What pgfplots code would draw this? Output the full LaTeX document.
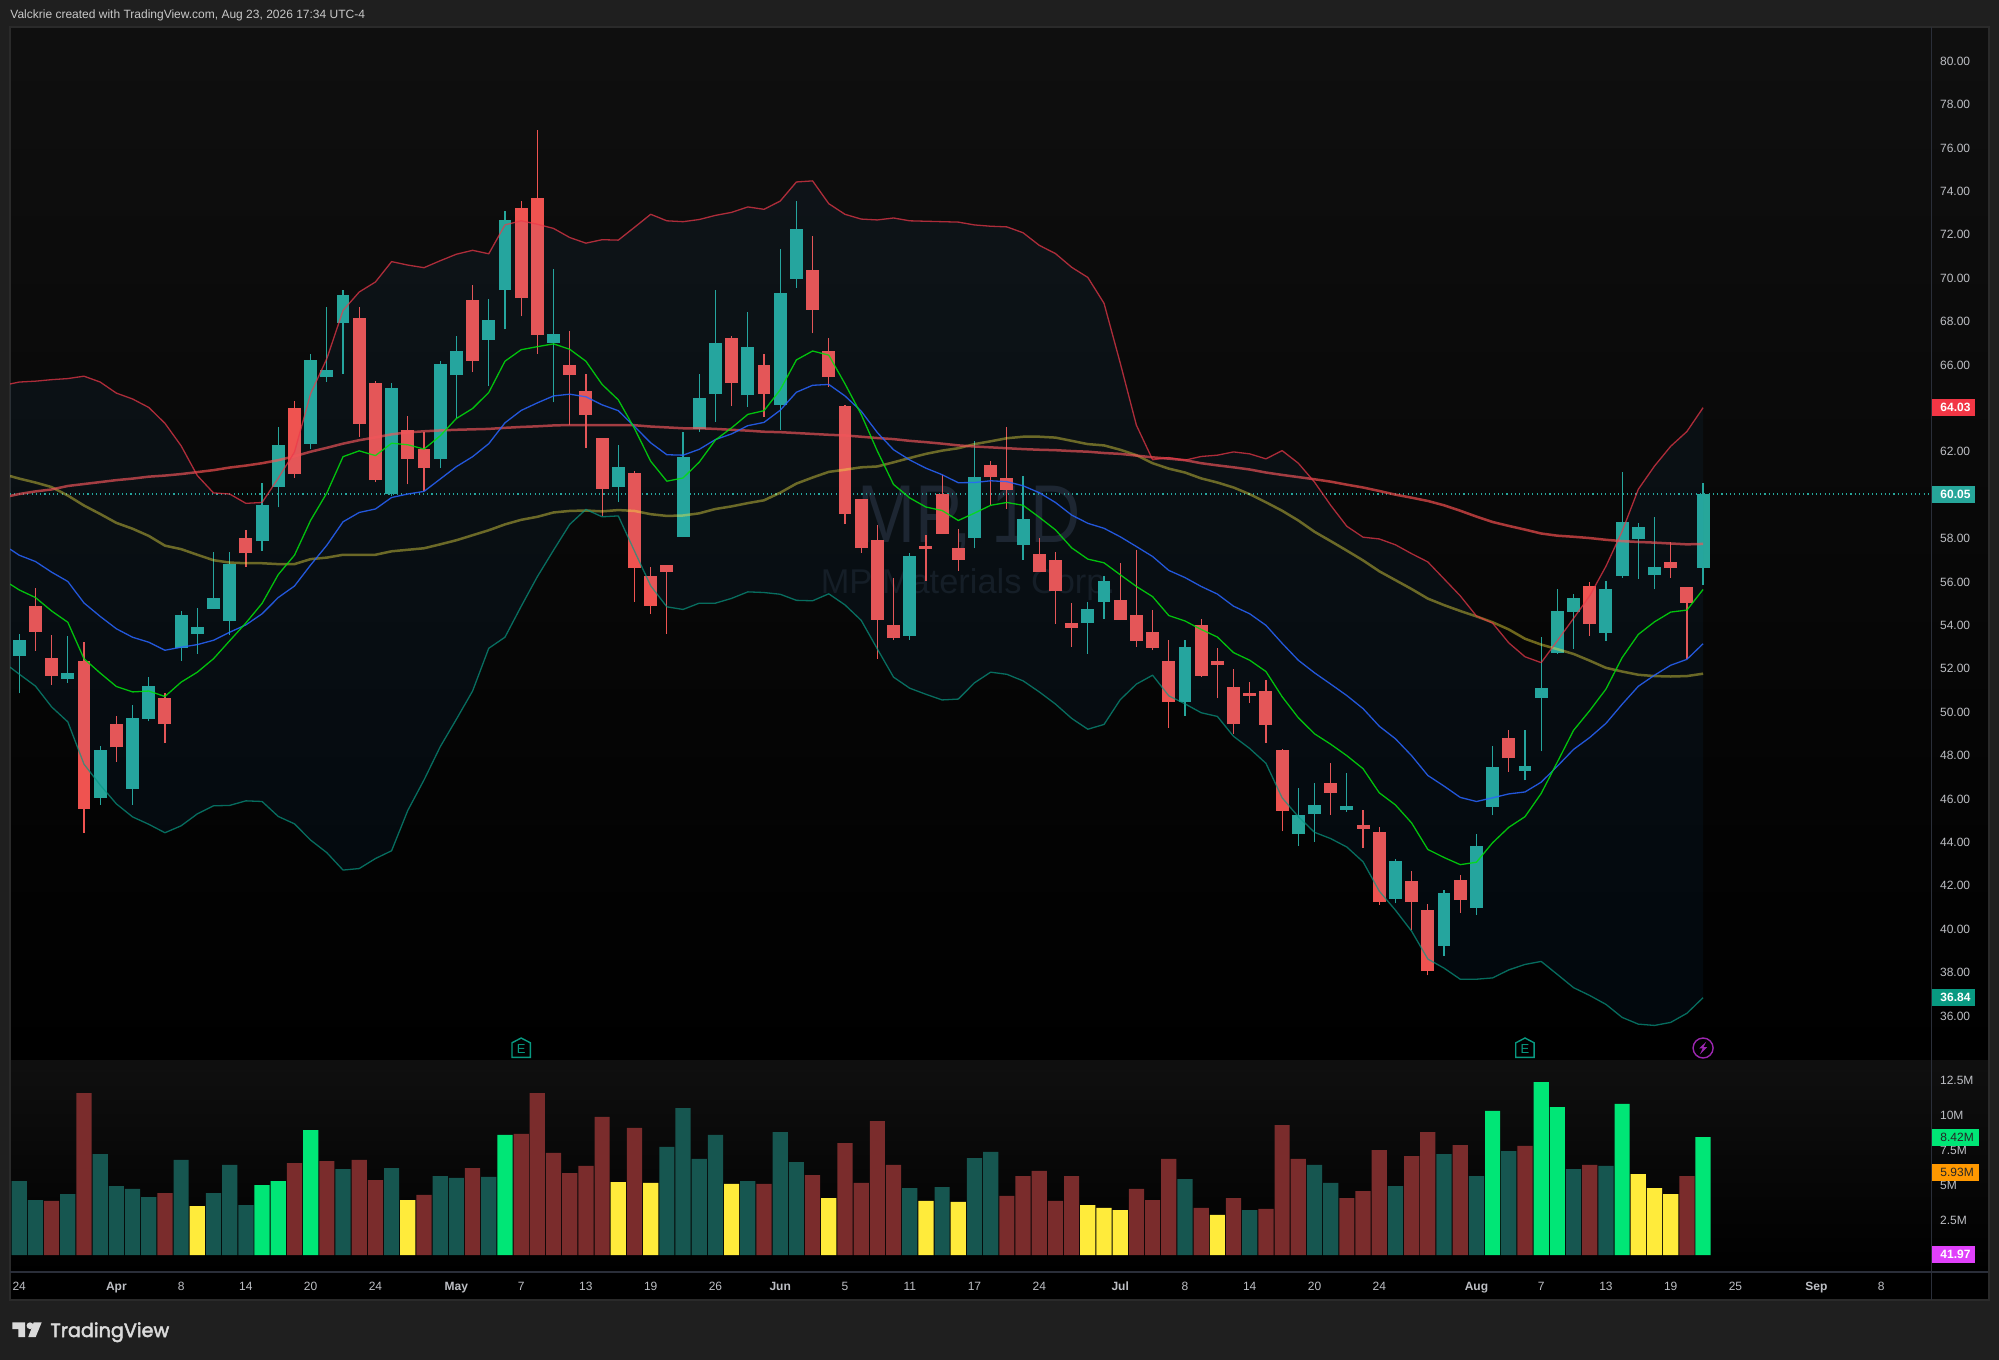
\documentclass[border=0pt]{standalone}
\usepackage{fontspec}
\setmainfont{Liberation Sans}
\newfontfamily\logofont[FakeBold=2.5]{Poppins}
\usepackage{pgfplots}
\usepackage{pgfplotstable}
\pgfplotsset{compat=1.18}
\usepgfplotslibrary{fillbetween}
\definecolor{outer}{HTML}{1F1F1F}
\definecolor{frameC}{HTML}{2A2A2A}
\definecolor{sepC}{HTML}{2A2E39}
\definecolor{labelC}{HTML}{BDBFC4}
\definecolor{upC}{HTML}{26A69A}
\definecolor{downC}{HTML}{EF5350}
\definecolor{bandUp}{HTML}{F23645}
\definecolor{bandLo}{HTML}{089981}
\definecolor{emaG}{HTML}{00E600}
\definecolor{emaB}{HTML}{2962FF}
\definecolor{smaO}{HTML}{FFEB3B}
\definecolor{smaR}{HTML}{FF5252}
\definecolor{bandFill}{HTML}{2196F3}
\definecolor{volT}{HTML}{165650}
\definecolor{volR}{HTML}{7A2C2C}
\definecolor{volY}{HTML}{FFEB3B}
\definecolor{volG}{HTML}{00E676}
\definecolor{purpleC}{HTML}{9C27B0}
\definecolor{magC}{HTML}{E040FB}
\definecolor{orangeC}{HTML}{FF9800}
\definecolor{HTMLwm}{HTML}{1D2128}
\definecolor{HTMLwn}{HTML}{15181D}
\definecolor{HTMLhd}{HTML}{C8C8C8}
\definecolor{HTMLlg}{HTML}{DADADA}

\pgfdeclareplotmark{earn}{%
  \pgfsetlinewidth{0.7pt}\pgfsetstrokecolor{bandLo}%
  \pgfpathmoveto{\pgfpoint{-4.6pt}{-4.7pt}}%
  \pgfpathlineto{\pgfpoint{4.6pt}{-4.7pt}}%
  \pgfpathlineto{\pgfpoint{4.6pt}{2.6pt}}%
  \pgfpathlineto{\pgfpoint{0pt}{5pt}}%
  \pgfpathlineto{\pgfpoint{-4.6pt}{2.6pt}}%
  \pgfpathclose\pgfusepathqstroke
  \pgftext[at={\pgfpoint{0pt}{-0.5pt}}]{\fontsize{6.5}{7}\selectfont\color{bandLo}E}}
\pgfdeclareplotmark{bolt}{%
  \pgfsetlinewidth{0.7pt}\pgfsetstrokecolor{purpleC}\pgfsetfillcolor{purpleC}%
  \pgfpathcircle{\pgfpointorigin}{5pt}\pgfusepathqstroke
  \pgfpathmoveto{\pgfpoint{1.6pt}{3.2pt}}%
  \pgfpathlineto{\pgfpoint{-2pt}{-0.2pt}}%
  \pgfpathlineto{\pgfpoint{-0.2pt}{-0.2pt}}%
  \pgfpathlineto{\pgfpoint{-1.6pt}{-3.2pt}}%
  \pgfpathlineto{\pgfpoint{2pt}{0.4pt}}%
  \pgfpathlineto{\pgfpoint{0.2pt}{0.4pt}}%
  \pgfpathclose\pgfusepathqfill}

\pgfplotstableread{
i hi top bot lo
0 53.59 53.31 52.58 50.86
3 53.50 51.80 51.52 51.36
5 48.45 48.24 46.04 45.72
7 50.35 49.73 46.46 45.74
8 51.64 51.20 49.69 49.57
10 54.66 54.48 52.94 52.37
11 54.82 53.93 53.61 52.69
12 57.39 55.26 54.75 54.75
13 57.37 56.82 54.21 53.56
15 60.58 59.55 57.87 57.44
16 63.12 62.30 60.37 59.43
18 66.52 66.22 62.37 62.12
19 68.65 65.76 65.44 65.23
20 69.45 69.22 67.93 65.60
23 65.18 64.93 60.05 59.98
26 66.17 66.03 61.66 61.27
27 67.32 66.63 65.53 63.53
29 69.04 68.07 67.16 65.03
30 73.07 72.68 69.45 67.64
33 70.41 67.43 67.02 64.27
37 62.29 61.30 60.38 59.68
41 62.93 61.75 58.06 58.06
42 65.60 64.48 63.05 62.93
43 69.44 67.02 64.66 63.38
45 68.46 66.83 64.60 64.06
47 71.36 69.31 64.16 63.01
48 73.55 72.27 69.95 69.54
55 57.33 57.20 53.51 53.34
59 62.49 60.83 58.03 57.54
62 60.87 58.89 57.71 57.01
66 55.06 54.76 54.12 52.68
67 56.25 56.04 55.07 54.29
72 53.34 53.00 50.47 49.83
79 46.48 45.26 44.38 43.84
80 46.71 45.72 45.30 44.03
82 47.18 45.66 45.49 45.41
85 43.22 43.14 41.38 41.18
88 41.78 41.67 39.22 38.78
90 44.36 43.82 40.97 40.66
91 48.46 47.47 45.63 45.24
93 49.19 47.51 47.29 46.85
94 53.44 51.11 50.65 48.19
95 55.65 54.66 52.74 52.68
96 55.42 55.24 54.61 52.90
98 56.02 55.67 53.65 53.29
99 61.08 58.76 56.27 56.18
100 58.70 58.52 57.98 56.14
101 58.97 56.68 56.31 55.65
104 60.58 60.05 56.64 55.87
}\candlesUp

\pgfplotstableread{
i hi top bot lo
1 55.70 54.89 53.70 52.83
2 53.54 52.49 51.66 51.27
4 53.24 52.35 45.54 44.44
6 49.80 49.46 48.38 47.72
9 50.88 50.65 49.46 48.57
14 58.38 58.03 57.32 56.70
17 64.34 64.02 60.97 60.78
21 68.69 68.17 63.28 62.69
22 65.25 65.16 60.69 60.60
24 63.63 63.01 61.66 60.49
25 62.92 62.12 61.24 60.21
28 69.70 68.99 66.17 65.67
31 73.57 73.23 69.08 68.24
32 76.83 73.69 67.39 66.52
34 67.54 66.00 65.53 63.25
35 65.60 64.80 63.69 62.18
36 62.63 62.63 60.28 59.02
38 61.09 61.01 56.63 55.09
39 56.67 56.27 54.88 54.54
40 56.80 56.78 56.46 53.62
44 67.33 67.24 65.17 64.10
46 66.49 66.00 64.66 63.61
49 71.93 70.38 68.54 67.45
50 67.22 66.64 65.44 65.00
51 64.16 64.10 59.13 58.68
52 59.81 59.81 57.56 57.35
53 58.61 57.93 54.25 52.46
54 56.20 54.02 53.42 53.34
56 58.14 57.65 57.52 56.05
57 60.91 60.06 58.22 58.22
58 58.46 57.56 57.01 56.52
60 61.56 61.39 60.83 59.55
61 63.13 60.79 60.25 59.38
63 58.01 57.29 56.47 56.47
64 57.37 57.01 55.58 54.08
65 55.04 54.12 53.87 53.00
68 56.85 55.17 54.24 54.24
69 57.46 54.47 53.27 53.01
70 54.72 53.69 52.96 52.86
71 53.34 52.36 50.47 49.29
73 54.28 54.00 51.66 51.62
74 52.94 52.36 52.16 50.63
75 51.97 51.15 49.45 49.00
76 51.37 50.88 50.75 50.44
77 51.46 50.98 49.41 48.57
78 48.28 48.24 45.45 44.50
81 47.64 46.73 46.27 45.28
83 45.47 44.79 44.62 43.76
84 44.69 44.48 41.24 41.13
86 42.66 42.21 41.24 39.94
87 41.14 40.87 38.06 37.87
89 42.48 42.27 41.34 40.76
92 49.19 48.81 47.87 47.25
97 56.00 55.81 54.06 53.52
102 57.82 56.91 56.64 56.18
103 55.77 55.77 55.03 52.45
}\candlesDown

\pgfplotstableread{
i up lo gr bl ol rd
-0.57 65.12 52.07 55.90 57.51 60.88 59.96
0 65.21 51.75 55.63 57.23 60.76 60.05
1 65.25 51.20 55.28 56.94 60.58 60.17
2 65.32 50.24 54.66 56.45 60.37 60.26
3 65.37 49.55 54.14 56.02 59.98 60.42
4 65.48 47.60 52.46 55.03 59.52 60.51
5 65.21 46.64 51.80 54.41 59.13 60.60
6 64.70 45.77 51.18 53.84 58.72 60.69
7 64.43 45.17 50.93 53.45 58.45 60.76
8 64.04 44.83 50.97 53.22 58.12 60.85
9 63.31 44.44 50.72 52.85 57.67 60.90
10 62.27 44.76 51.38 52.99 57.51 60.97
11 60.90 45.31 51.84 53.11 57.25 61.06
12 60.10 45.68 52.46 53.31 57.00 61.15
13 60.05 45.70 53.29 53.68 56.89 61.27
14 59.62 45.91 54.11 54.02 56.86 61.36
15 59.66 45.88 55.01 54.53 56.86 61.47
16 60.78 45.19 56.34 55.28 56.82 61.61
17 61.98 44.85 57.23 55.81 56.82 61.79
18 64.68 44.10 58.84 56.78 57.05 62.00
19 66.29 43.52 60.10 57.69 57.12 62.18
20 68.51 42.72 61.77 58.77 57.25 62.37
21 69.36 42.79 62.04 59.20 57.25 62.53
22 69.82 43.25 61.82 59.36 57.25 62.66
23 70.76 43.61 62.39 59.89 57.41 62.80
24 70.60 45.47 62.32 60.05 57.48 62.89
25 70.48 46.87 62.12 60.17 57.55 62.94
26 70.80 48.40 62.73 60.74 57.73 62.98
27 71.10 49.67 63.53 61.31 57.92 63.01
28 71.28 50.97 63.99 61.77 58.15 63.03
29 71.12 52.94 64.73 62.37 58.38 63.05
30 72.45 53.45 66.17 63.33 58.65 63.10
31 72.64 54.87 66.70 63.90 58.86 63.14
32 72.48 56.24 66.84 64.25 59.00 63.17
33 72.29 57.46 66.97 64.57 59.20 63.21
34 71.87 58.65 66.72 64.65 59.27 63.23
35 71.61 59.34 66.17 64.53 59.29 63.23
36 71.77 59.00 65.10 64.16 59.25 63.23
37 71.75 59.04 64.39 63.89 59.31 63.23
38 72.34 57.42 63.07 63.16 59.27 63.22
39 72.94 55.82 61.56 62.41 59.12 63.16
40 72.64 54.85 60.64 61.86 59.04 63.12
41 72.60 54.73 60.79 61.84 59.06 63.08
42 72.70 55.02 61.52 62.11 59.16 63.08
43 72.89 55.02 62.54 62.56 59.36 63.05
44 73.03 55.24 63.10 62.82 59.48 63.01
45 73.28 55.54 63.72 63.20 59.63 62.97
46 73.17 55.51 63.89 63.35 59.76 62.92
47 73.55 55.43 64.85 63.91 60.11 62.90
48 74.43 55.15 66.23 64.74 60.53 62.86
49 74.48 55.13 66.64 65.06 60.81 62.82
50 73.43 55.45 66.45 65.10 61.07 62.78
51 72.94 54.94 65.13 64.57 61.17 62.75
52 72.72 54.23 63.72 63.87 61.28 62.69
53 72.68 52.91 62.03 62.88 61.32 62.63
54 72.77 51.61 60.49 62.09 61.51 62.58
55 72.64 51.10 59.87 61.62 61.71 62.50
56 72.62 50.82 59.45 61.24 61.90 62.44
57 72.60 50.56 59.29 60.94 62.05 62.37
58 72.58 50.60 58.83 60.57 62.16 62.29
59 72.45 51.35 59.17 60.58 62.35 62.24
60 72.39 51.84 59.53 60.66 62.48 62.20
61 72.36 51.74 59.66 60.62 62.62 62.16
62 72.09 51.44 59.53 60.43 62.69 62.12
63 71.51 50.93 58.98 60.11 62.69 62.09
64 71.13 50.37 58.40 59.66 62.65 62.07
65 70.50 49.71 57.57 59.08 62.50 62.03
66 70.03 49.21 57.05 58.70 62.35 62.00
67 68.84 49.43 56.88 58.47 62.29 61.94
68 66.09 50.57 56.33 58.08 62.09 61.90
69 63.22 51.29 55.79 57.63 61.84 61.82
70 61.63 51.70 55.32 57.17 61.47 61.74
71 61.73 50.75 54.45 56.53 61.22 61.68
72 61.61 50.38 54.20 56.20 61.04 61.61
73 61.78 49.97 53.81 55.79 60.77 61.47
74 61.84 49.80 53.46 55.44 60.58 61.37
75 61.99 48.88 52.74 54.88 60.35 61.28
76 61.90 48.32 52.39 54.53 60.04 61.18
77 61.67 47.64 51.87 54.00 59.67 61.04
78 62.05 46.05 50.71 53.17 59.28 60.93
79 61.47 45.18 49.74 52.39 58.83 60.83
80 60.60 44.46 49.00 51.81 58.31 60.73
81 59.53 44.17 48.52 51.29 57.88 60.62
82 58.56 43.78 47.99 50.76 57.44 60.48
83 58.06 43.10 47.39 50.16 56.99 60.35
84 57.98 41.75 46.28 49.35 56.49 60.19
85 57.71 40.87 45.72 48.77 56.08 60.02
86 57.30 39.90 44.89 47.99 55.67 59.88
87 56.92 38.62 43.67 47.08 55.23 59.73
88 56.14 38.20 43.30 46.59 54.93 59.53
89 55.36 37.69 42.97 46.07 54.66 59.28
90 54.43 37.69 43.08 45.88 54.41 59.01
91 54.10 37.75 43.98 46.05 54.14 58.76
92 53.19 38.12 44.69 46.23 53.81 58.58
93 52.55 38.37 45.18 46.32 53.38 58.41
94 52.28 38.51 46.25 46.77 53.11 58.23
95 53.29 37.91 47.70 47.51 52.90 58.13
96 54.32 37.30 49.16 48.28 52.68 58.08
97 55.36 36.94 50.07 48.83 52.37 58.02
98 56.72 36.53 51.06 49.48 52.04 57.94
99 58.33 35.93 52.51 50.36 51.87 57.88
100 60.27 35.62 53.58 51.19 51.72 57.84
101 61.34 35.56 54.16 51.70 51.66 57.81
102 62.25 35.70 54.61 52.16 51.64 57.77
103 62.93 36.12 54.70 52.43 51.66 57.73
104 64.03 36.84 55.65 53.15 51.77 57.75
}\linesT

\pgfplotsset{
  layers/ticksontop/.define layer set={main,pre main,axis background,axis grid,axis ticks,axis lines,axis tick labels,axis descriptions,axis foreground}{},
  paneaxis/.style={
    scale only axis, width=960.85pt, xmin=-0.57, xmax=118.12,
    axis line style={draw=none}, major tick length=0pt, tick style={draw=none},
    tick label style={font=\fontsize{6}{7}\selectfont, color=labelC, inner sep=0pt},
    yticklabel pos=right,
    yticklabel style={anchor=west, xshift=4pt},
    clip=true},
  wick/.style={draw=none, mark=none, forget plot,
    error bars/.cd, y dir=plus, y explicit, error mark=none,
    error bar style={line width=0.6pt, draw=#1}},
  body/.style={draw=none, mark=none, forget plot,
    error bars/.cd, y dir=plus, y explicit, error mark=none,
    error bar style={line width=6.45pt, draw=#1}},
  volbar/.style={ybar, bar width=7.6pt, bar shift=0pt, fill=#1, draw=none, forget plot},
  thinline/.style={line width=0.65pt, color=#1, mark=none, forget plot, line join=round},
  thickline/.style={line width=1.25pt, color=#1, mark=none, forget plot, line join=round}
}

\begin{document}
\begin{tikzpicture}[x=0.5pt,y=-0.5pt]
  % canvas and panes
  \fill[outer] (0,0) rectangle (1999,1360);
  \shade[top color=black!94!white, bottom color=black] (10,27) rectangle (1988,1060.7);
  \shade[top color=black!94!white, bottom color=black] (10,1060.7) rectangle (1988,1272);
  \fill[black] (10,1272) rectangle (1988,1299.3);
  \draw[frameC, line width=1pt] (9.5,26.5) rectangle (1988.5,1300);
  % watermark
  \node[color=HTMLwm, xscale=0.85, transform shape, inner sep=0pt] at (969,520)
    {\fontsize{41}{41}\selectfont MP, 1D};
  \node[color=HTMLwn, inner sep=0pt] at (968,585)
    {\fontsize{17.2}{18}\selectfont MP Materials Corp.};

  % price pane
  \begin{axis}[paneaxis, at={(5pt,-530.35pt)}, anchor=south west, height=517pt,
    ymin=33.935, ymax=81.585, set layers=ticksontop,
    xtick=\empty,
    ytick={36,38,40,42,44,46,48,50,52,54,56,58,62,66,68,70,72,74,76,78,80},
    yticklabels={36.00,38.00,40.00,42.00,44.00,46.00,48.00,50.00,52.00,54.00,56.00,58.00,62.00,66.00,68.00,70.00,72.00,74.00,76.00,78.00,80.00}]
    \addplot[color=upC, line width=0.55pt, dash pattern=on 0.55pt off 1.6pt, forget plot] coordinates {(-0.57,60.05)(118.12,60.05)};
    \addplot[name path=U, draw=none, forget plot] table[x=i,y=up]{\linesT};
    \addplot[name path=L, draw=none, forget plot] table[x=i,y=lo]{\linesT};
    % candles
    \addplot[wick=upC] table[x=i,y=lo,y error plus expr=\thisrow{hi}-\thisrow{lo}]{\candlesUp};
    \addplot[wick=downC] table[x=i,y=lo,y error plus expr=\thisrow{hi}-\thisrow{lo}]{\candlesDown};
    \addplot[body=upC] table[x=i,y=bot,y error plus expr=\thisrow{top}-\thisrow{bot}]{\candlesUp};
    \addplot[body=downC] table[x=i,y=bot,y error plus expr=\thisrow{top}-\thisrow{bot}]{\candlesDown};
    % bollinger fill, on the layer above the candles
    \addplot[fill=bandFill, fill opacity=0.05, draw=none, forget plot] fill between[of=U and L];
    % indicator lines
    \addplot[thickline=smaO, opacity=0.42] table[x=i,y=ol]{\linesT};
    \addplot[thickline=smaR, opacity=0.66] table[x=i,y=rd]{\linesT};
    \addplot[thinline=emaB, opacity=0.85] table[x=i,y=bl]{\linesT};
    \addplot[thinline=emaG, opacity=0.85] table[x=i,y=gr]{\linesT};
    \addplot[thinline=bandUp, opacity=0.72] table[x=i,y=up]{\linesT};
    \addplot[thinline=bandLo, opacity=0.70] table[x=i,y=lo]{\linesT};
    % event markers
    \addplot[only marks, mark=earn, forget plot] coordinates {(31,34.52)(93,34.52)};
    \addplot[only marks, mark=bolt, forget plot] coordinates {(104,34.52)};
  \end{axis}

  % volume pane
  \begin{axis}[paneaxis, at={(5pt,-636pt)}, anchor=south west, height=105.65pt,
    ymin=-1.218, ymax=13.92,
    ytick={2.5,5,7.5,10,12.5}, yticklabels={2.5M,5M,7.5M,10M,12.5M},
    xtick={0,6,10,14,18,22,27,31,35,39,43,47,51,55,59,63,68,72,76,80,84,90,94,98,102,106,111,115},
    xticklabels={24,\textbf{Apr},8,14,20,24,\textbf{May},7,13,19,26,\textbf{Jun},5,11,17,24,\textbf{Jul},8,14,20,24,\textbf{Aug},7,13,19,25,\textbf{Sep},8},
    xticklabel style={anchor=base, yshift=-9pt}]
    \addplot[volbar=volT] coordinates {(0,5.30)(1,3.94)(3,4.37)(5,7.23)(6,4.94)(7,4.73)(8,4.15)(10,6.81)(12,4.44)(13,6.45)(14,3.58)(20,6.16)(23,6.23)(26,5.66)(27,5.52)(29,5.59)(40,7.74)(41,10.53)(42,6.88)(43,8.60)(45,5.30)(47,8.81)(48,6.66)(55,4.80)(57,4.87)(59,6.95)(60,7.38)(72,5.44)(76,3.22)(80,6.45)(81,5.16)(85,4.94)(88,7.23)(90,5.66)(92,7.45)(96,6.16)(98,6.38)};
    \addplot[volbar=volR] coordinates {(2,3.87)(4,11.60)(9,4.44)(17,6.59)(19,6.73)(21,6.81)(22,5.37)(25,4.30)(28,6.23)(31,8.67)(32,11.60)(33,7.31)(34,5.87)(35,6.38)(36,9.89)(38,9.10)(46,5.09)(49,5.73)(51,8.02)(52,5.16)(53,9.60)(54,6.45)(61,4.23)(62,5.66)(63,6.02)(64,3.87)(65,5.66)(69,4.73)(70,3.94)(71,6.88)(73,3.37)(75,4.08)(77,3.30)(78,9.31)(79,6.88)(82,4.08)(83,4.58)(84,7.52)(86,7.09)(87,8.81)(89,7.88)(93,7.81)(97,6.45)(103,5.66)};
    \addplot[volbar=volY] coordinates {(11,3.51)(24,3.94)(37,5.23)(39,5.16)(44,5.09)(50,4.08)(56,3.87)(58,3.80)(66,3.58)(67,3.37)(68,3.22)(74,2.87)(100,5.80)(101,4.80)(102,4.37)};
    \addplot[volbar=volG] coordinates {(15,5.01)(16,5.30)(18,8.95)(30,8.60)(91,10.32)(94,12.39)(95,10.60)(99,10.82)(104,8.45)};
  \end{axis}

  % separators
  \draw[sepC, line width=0.6pt] (1931.7,27) -- (1931.7,1299.5);
  \draw[sepC, line width=0.6pt] (10,1272) -- (1988,1272);

  % price and value tags
  \fill[bandUp] (1932,399) rectangle (1975,415.7);
  \node[anchor=west, inner sep=0pt, text=white] at (1940,407.3) {\fontsize{6}{7}\selectfont\textbf{64.03}};
  \fill[upC] (1932,486) rectangle (1975,503);
  \node[anchor=west, inner sep=0pt, text=white] at (1940,494.5) {\fontsize{6}{7}\selectfont\textbf{60.05}};
  \fill[bandLo] (1932,989) rectangle (1975,1005.7);
  \node[anchor=west, inner sep=0pt, text=white] at (1940,997.3) {\fontsize{6}{7}\selectfont\textbf{36.84}};
  \fill[volG] (1932,1129) rectangle (1979,1146);
  \node[anchor=west, inner sep=0pt, text=black!85] at (1940,1137.5) {\fontsize{6}{7}\selectfont 8.42M};
  \fill[orangeC] (1932,1164) rectangle (1979,1181);
  \node[anchor=west, inner sep=0pt, text=black!85] at (1940,1172.5) {\fontsize{6}{7}\selectfont 5.93M};
  \fill[magC] (1932,1246) rectangle (1975,1263);
  \node[anchor=west, inner sep=0pt, text=white] at (1940,1254.5) {\fontsize{6}{7}\selectfont\textbf{41.97}};

  % header and logo
  \node[anchor=west, inner sep=0pt, text=HTMLhd] at (10,15) {\fontsize{6}{7}\selectfont Valckrie created with TradingView.com, Aug 23, 2026 17:34 UTC-4};
  \fill[HTMLlg] (12.3,1322.3) -- (25,1322.3) -- (25,1337) -- (18.3,1337) -- (18.3,1329) -- (12.3,1329) -- cycle;
  \fill[HTMLlg] (30,1325.7) circle[radius=3.4];
  \fill[HTMLlg] (33.7,1322.3) -- (41.7,1322.3) -- (35.7,1337) -- (28.3,1337) -- cycle;
  \node[anchor=base west, inner sep=0pt, text=HTMLlg] at (50,1337) {\fontsize{9.6}{10}\logofont TradingView};
\end{tikzpicture}
\end{document}
